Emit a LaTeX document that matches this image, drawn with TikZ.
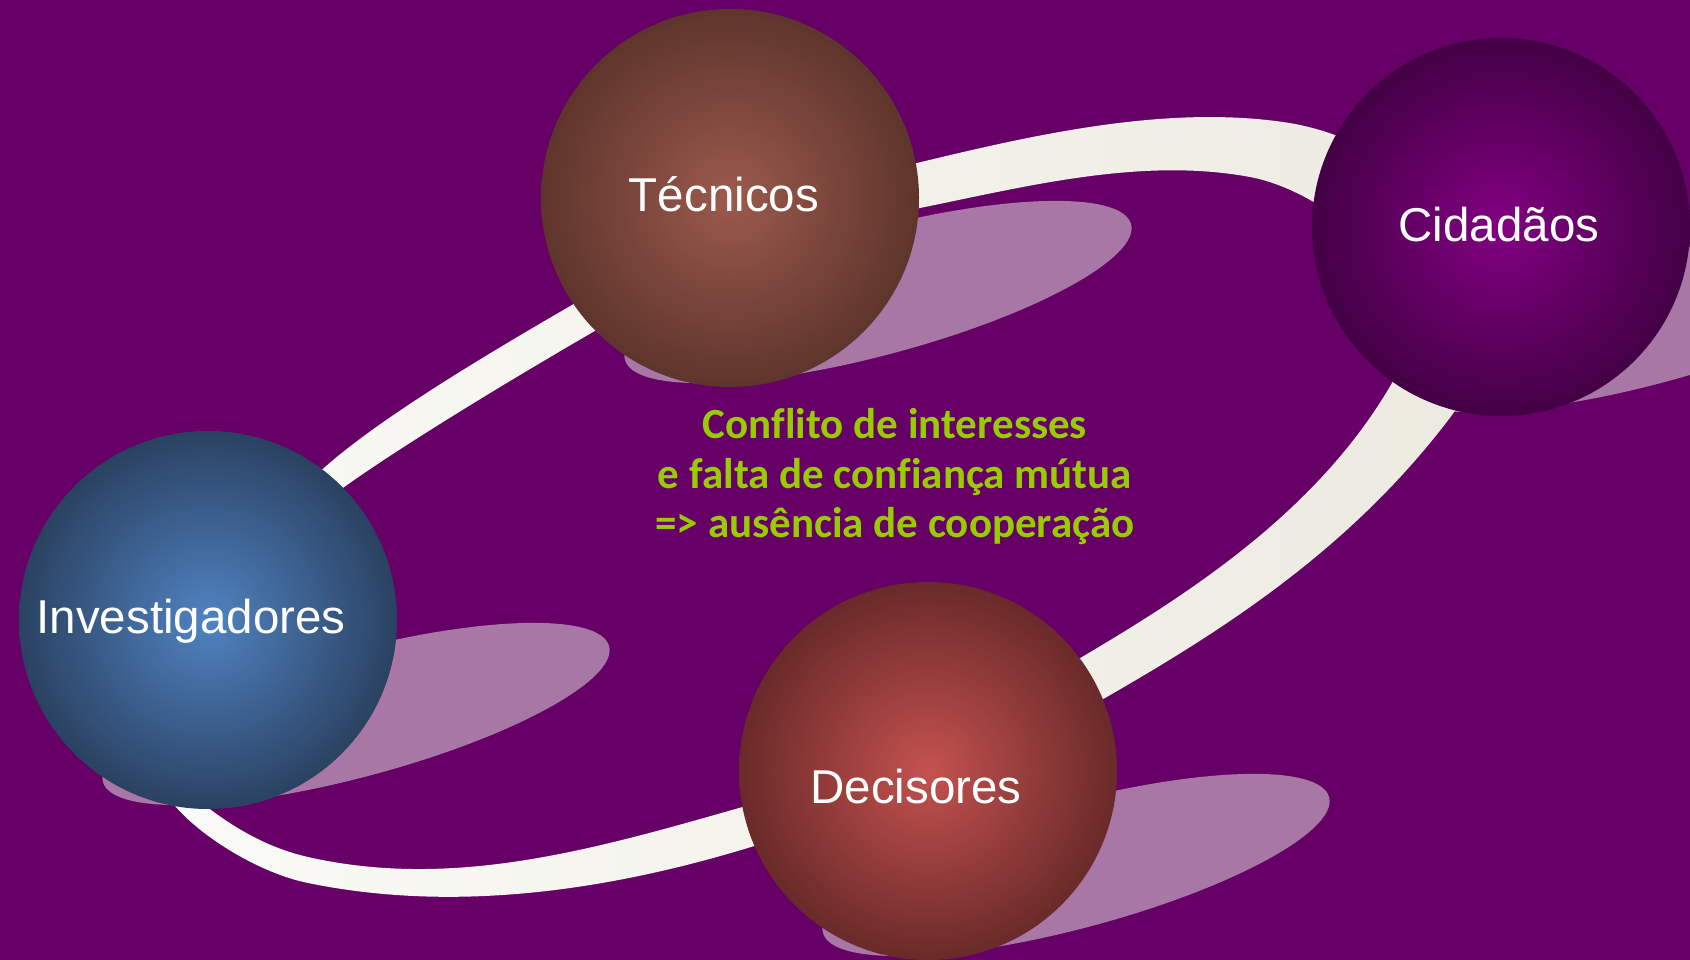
\documentclass[tikz,border=0pt]{standalone}
\usepackage{fontspec}
\setmainfont{Liberation Sans}
\newfontfamily\calib[Ligatures=NoCommon]{Carlito}
\usetikzlibrary{calc}
\definecolor{bg}{HTML}{660066}
\definecolor{shad}{HTML}{A877A5}
\definecolor{bandL}{HTML}{FBFBF8}
\definecolor{bandR}{HTML}{ECEADF}
\definecolor{txtgreen}{HTML}{99CC00}
\definecolor{tecIn}{HTML}{9C5A4D}\definecolor{tecOut}{HTML}{45261F}
\definecolor{cidIn}{HTML}{820082}\definecolor{cidOut}{HTML}{2A002C}
\definecolor{invIn}{HTML}{5083C2}\definecolor{invOut}{HTML}{1B283B}
\definecolor{decIn}{HTML}{C4524F}\definecolor{decOut}{HTML}{451A1A}
\pgfdeclareradialshading{shTec}{\pgfpointorigin}{color(0bp)=(tecIn); color(35bp)=(tecOut); color(50bp)=(tecOut)}
\pgfdeclareradialshading{shCid}{\pgfpointorigin}{color(0bp)=(cidIn); color(35bp)=(cidOut); color(50bp)=(cidOut)}
\pgfdeclareradialshading{shInv}{\pgfpointorigin}{color(0bp)=(invIn); color(35bp)=(invOut); color(50bp)=(invOut)}
\pgfdeclareradialshading{shDec}{\pgfpointorigin}{color(0bp)=(decIn); color(35bp)=(decOut); color(50bp)=(decOut)}
\tikzset{
  sphere/.style={circle, minimum size=378pt, inner sep=0pt, draw=none},
  lab/.style={anchor=base, text=white, inner sep=0pt, font=\fontsize{47.5pt}{57pt}\selectfont},
  gtext/.style={anchor=base, text=txtgreen, inner sep=0pt, font=\calib\bfseries\fontsize{43pt}{50pt}\selectfont},
  shadowshape/.style={fill=shad},
}
\begin{document}
\begin{tikzpicture}[x=1pt,y=-1pt]
\useasboundingbox (0,0) rectangle (1690,960);
\clip (0,0) rectangle (1690,960);
\fill[bg] (0,0) rectangle (1690,960);
\coordinate (ctec) at (730,198);
\coordinate (ccid) at (1501,227);
\coordinate (cinv) at (208,620);
\coordinate (cdec) at (928,771);
% shadows
\foreach \c in {ctec,ccid,cinv,cdec}{
  \fill[shadowshape, shift={(\c)}, shift={(148,94)}, rotate=15] (0,0) ellipse [x radius=262, y radius=63];
}
% band
\path[shade, left color=bandL, right color=bandR, even odd rule]
  (325,467) .. controls (385,414) and (503,345) .. (572,305)
  .. controls (675,245) and (801,191) .. (917,163)
  .. controls (1033,135) and (1164,105) .. (1283,122)
  .. controls (1432,143) and (1542,295) .. (1452,415)
  .. controls (1350,551) and (1218,633) .. (1105,698)
  .. controls (1001,758) and (866,812) .. (751,847)
  .. controls (607,891) and (454,913) .. (308,883)
  .. controls (259,873) and (202,837) .. (176,807)
  .. controls (77,695) and (212,566) .. (325,467) -- cycle
  (347,485) .. controls (412,439) and (524,372) .. (593,332)
  .. controls (696,272) and (802,232) .. (920,208)
  .. controls (1028,186) and (1142,157) .. (1250,177)
  .. controls (1330,192) and (1447,287) .. (1392,383)
  .. controls (1317,513) and (1185,596) .. (1082,657)
  .. controls (979,718) and (854,776) .. (739,808)
  .. controls (595,849) and (454,890) .. (308,857)
  .. controls (264,847) and (231,825) .. (207,807)
  .. controls (102,730) and (225,572) .. (347,485) -- cycle;
% spheres
\node[sphere, shading=shTec] (tec) at (ctec) {};
\node[sphere, shading=shCid] (cid) at (ccid) {};
\node[sphere, shading=shInv] (inv) at (cinv) {};
\node[sphere, shading=shDec] (dec) at (cdec) {};
% labels
\node[lab] (tecl) at (724,212) {Técnicos};
\node[lab] (cidl) at (1499,242) {Cidadãos};
\node[lab] (invl) at (191,633) {Investigadores};
\node[lab] (decl) at (916,803) {Decisores};
% central text
\node[gtext] (g1) at (895,438) {Conflito de interesses};
\node[gtext] (g2) at (895,488) {e falta de confiança mútua};
\node[gtext] (g3) at (895,537) {=> ausência de cooperação};
\end{tikzpicture}
\end{document}
